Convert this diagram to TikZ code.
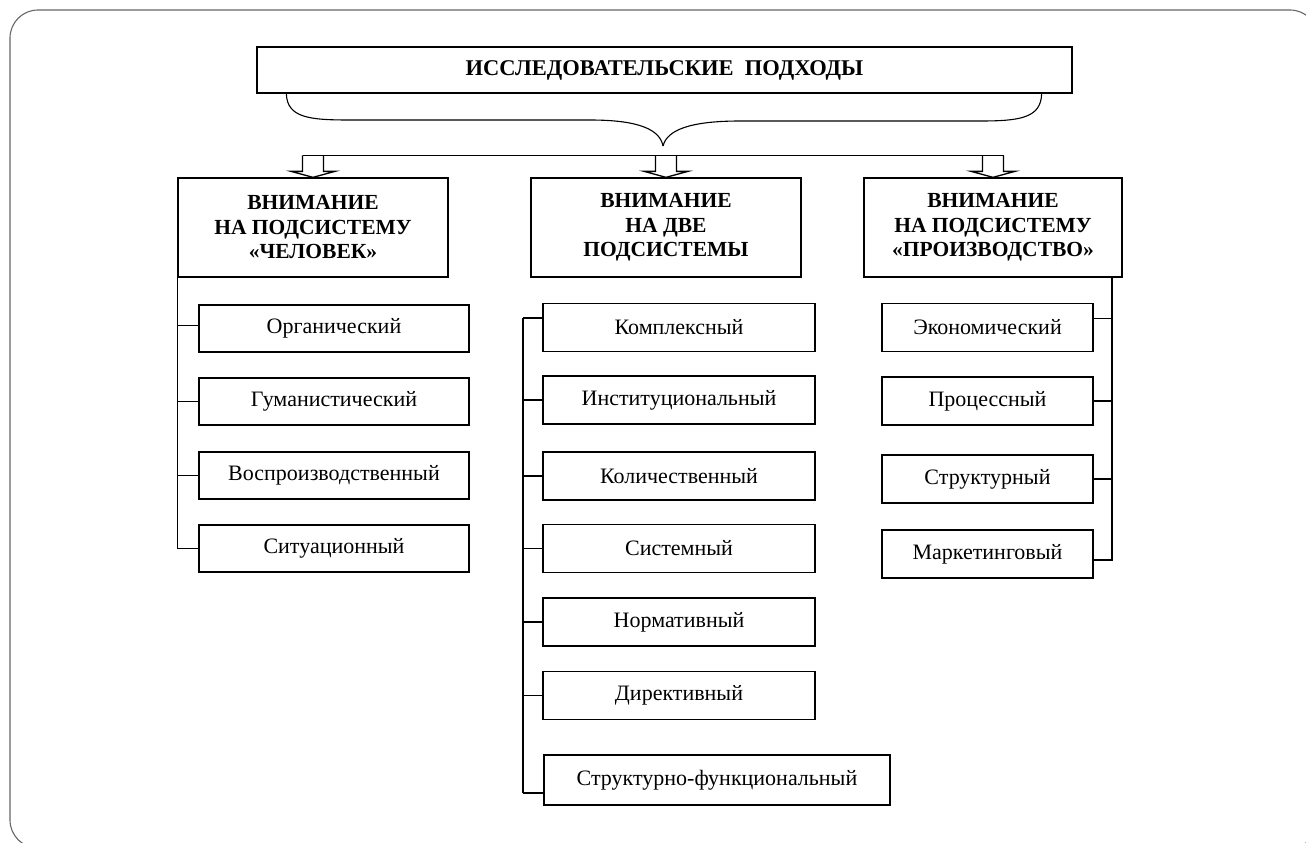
\documentclass[tikz,border=0pt]{standalone}
\usepackage{fontspec}
\setmainfont{Liberation Serif}
\begin{document}
\begin{tikzpicture}[x=1pt,y=-1pt, line width=1.3pt,
  box/.style={draw, inner sep=0pt, align=center, font=\fontsize{22}{24}\selectfont},
  hbox/.style={draw, inner sep=0pt, align=center, font=\fontsize{21.5}{24.5}\selectfont\bfseries},
  tbox/.style={draw, inner sep=0pt, align=center, font=\fontsize{22.5}{24}\selectfont\bfseries},
  frame/.style={draw=black!60, line width=1.1pt, rounded corners=28pt}]
\useasboundingbox (0,0) rectangle (1306,843);
\path[frame] (10,10) rectangle (1318,848);

% title
\node[tbox, minimum width=815pt, minimum height=46pt] (title) at (664.5,70)
  {ИССЛЕДОВАТЕЛЬСКИЕ\ \ ПОДХОДЫ};

% brace
\coordinate (bl) at ([xshift=30pt]title.south west);
\coordinate (br) at ([xshift=-31pt]title.south east);
\coordinate (bt) at (663,146);
\draw[line width=1.1pt] (bl) .. controls (287,118) and (310,120) .. (350,120) -- (590,120)
  .. controls (640,120) and (660,130) .. (bt);
\draw[line width=1.1pt] (br) .. controls (1041,118) and (1020,121) .. (980,121) -- (740,121)
  .. controls (690,121) and (667,130) .. (bt);

% headers
\node[hbox, minimum width=270pt, minimum height=99pt] (hL) at (313,227.5)
  {ВНИМАНИЕ\\НА ПОДСИСТЕМУ\\«ЧЕЛОВЕК»};
\node[hbox, minimum width=270pt, minimum height=99pt] (hM) at (666,227.5)
  {ВНИМАНИЕ\\НА ДВЕ\\ПОДСИСТЕМЫ};
\node[hbox, minimum width=258pt, minimum height=99pt] (hR) at (993,227.5)
  {ВНИМАНИЕ\\НА ПОДСИСТЕМУ\\«ПРОИЗВОДСТВО»};

% block arrows
\foreach \h in {hL,hM,hR}{
  \draw (\h.north) -- ++(-22,-6) -- ++(11.5,0) -- ++(0,-16) coordinate (\h l);
  \draw (\h.north) -- ++(22,-6) -- ++(-11.5,0) -- ++(0,-16) coordinate (\h r);
}
\draw (hLl) -- (hRr);

% left column
\node[box, minimum width=270pt, minimum height=47pt] (l1) at (334,328.5) {Органический};
\node[box, minimum width=270pt, minimum height=47pt] (l2) at (334,401.5) {Гуманистический};
\node[box, minimum width=270pt, minimum height=47pt] (l3) at (334,475.5) {Воспроизводственный};
\node[box, minimum width=270pt, minimum height=47pt] (l4) at (334,548.5) {Ситуационный};
\draw (hL.south west) |- (l4.west);
\draw ([yshift=3pt]l1.west) -- ([yshift=3pt]l1.west -| hL.west);
\draw (l2.west) -- (l2.west -| hL.west);
\draw (l3.west) -- (l3.west -| hL.west);

% middle column
\node[box, minimum width=272pt, minimum height=48pt] (m1) at (679,327.5) {Комплексный};
\node[box, minimum width=272pt, minimum height=48pt] (m2) at (679,400) {Институциональный};
\node[box, minimum width=272pt, minimum height=48pt] (m3) at (679,476) {Количественный};
\node[box, minimum width=272pt, minimum height=48pt] (m4) at (679,548.5) {Системный};
\node[box, minimum width=272pt, minimum height=48pt] (m5) at (679,622) {Нормативный};
\node[box, minimum width=272pt, minimum height=48pt] (m6) at (679,695.5) {Директивный};
\node[box, minimum width=346pt, minimum height=50pt] (m7) at (717,780) {Структурно-функциональный};
\coordinate (mt) at (523,318);
\coordinate (mb) at (523,793);
\draw (mt) -- (mb);
\draw (mt) -- (mt -| m1.west);
\draw (mb) -- (mb -| m7.west);
\foreach \n in {m2,m3,m4,m5,m6}{ \draw (\n.west) -- (\n.west -| mt); }

% right column
\node[box, minimum width=211pt, minimum height=48pt] (r1) at (987.5,327.5) {Экономический};
\node[box, minimum width=211pt, minimum height=48pt] (r2) at (987.5,401) {Процессный};
\node[box, minimum width=211pt, minimum height=48pt] (r3) at (987.5,479) {Структурный};
\node[box, minimum width=211pt, minimum height=48pt] (r4) at (987.5,554) {Маркетинговый};
\coordinate (rt) at (hR.south -| 1112,0);
\coordinate (rb) at (1112,560);
\draw (rt) -- (rb) -- (rb -| r4.east);
\draw ([yshift=9pt]r1.east) -- ([yshift=9pt]r1.east -| rt);
\draw (r2.east) -- (r2.east -| rt);
\draw (r3.east) -- (r3.east -| rt);
\end{tikzpicture}
\end{document}
